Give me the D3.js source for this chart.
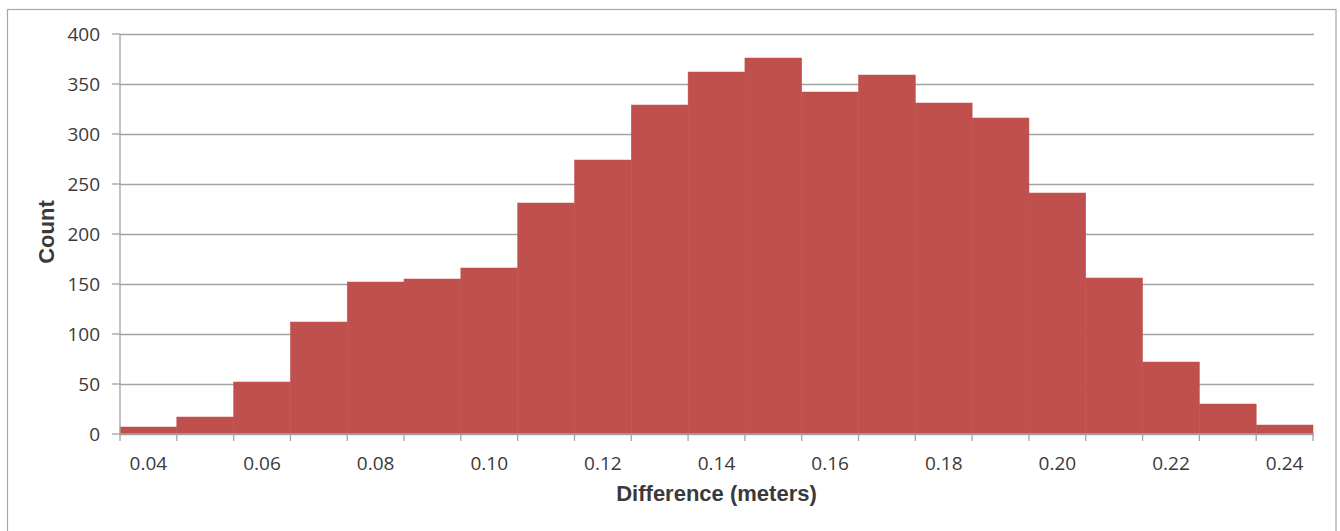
<!DOCTYPE html>
<html>
<head>
<meta charset="utf-8">
<script src="https://cdn.jsdelivr.net/npm/d3@7"></script>
<style>
  html, body { margin: 0; padding: 0; background: #fff; }
  svg { display: block; }
</style>
</head>
<body>
<svg id="chart" width="1340" height="531"></svg>
<script>
// ---- data ----
const categories = ["0.04","0.05","0.06","0.07","0.08","0.09","0.10","0.11","0.12","0.13","0.14",
                    "0.15","0.16","0.17","0.18","0.19","0.20","0.21","0.22","0.23","0.24"];
const counts = [7, 17, 52, 112, 152, 155, 166, 231, 274, 329, 362,
                376, 342, 359, 331, 316, 241, 156, 72, 30, 9];
const xTickLabels = ["0.04","0.06","0.08","0.10","0.12","0.14","0.16","0.18","0.20","0.22","0.24"];
const yTicks = [0, 50, 100, 150, 200, 250, 300, 350, 400];
const xTitle = "Difference (meters)";
const yTitle = "Count";

(function () {
// ---- layout ----
const svg = d3.select("#chart");
const pLeft = 120, pRight = 1313, pTop = 34, pBottom = 434;
const gridColor = "#a3a3a3";
const textColor = "#3a3a3a";
const font = "'Open Sans', 'Liberation Sans', sans-serif";

// outer frame
svg.append("rect")
  .attr("x", 7.5).attr("y", 9.5)
  .attr("width", 1336 - 7.5).attr("height", 600)
  .attr("fill", "#fff").attr("stroke", "#a6a6a6").attr("stroke-width", 1.2);

const x = d3.scaleBand().domain(categories).range([pLeft, pRight]).padding(0);
const y = d3.scaleLinear().domain([0, 400]).range([pBottom, pTop]);

// gridlines via axis
const yAxis = d3.axisLeft(y).tickValues(yTicks).tickSize(-(pRight - pLeft + 1)).tickPadding(0).tickFormat("");
const gy = svg.append("g").attr("transform", `translate(${pLeft},0)`).call(yAxis);
gy.select(".domain").remove();
gy.selectAll(".tick line").attr("stroke", gridColor).attr("stroke-width", 1.3);
// outside tick marks
svg.append("g").selectAll("line").data(yTicks).join("line")
  .attr("x1", pLeft - 8).attr("x2", pLeft)
  .attr("y1", d => y(d)).attr("y2", d => y(d))
  .attr("stroke", gridColor).attr("stroke-width", 1.3);
// y labels
svg.append("g").selectAll("text").data(yTicks).join("text")
  .attr("x", 100).attr("y", d => y(d))
  .attr("dy", "0.36em")
  .attr("text-anchor", "end")
  .attr("font-family", font).attr("font-size", 19)
  .attr("fill", textColor)
  .text(d => d);

// bars
svg.append("g").selectAll("rect").data(counts).join("rect")
  .attr("x", (d, i) => x(categories[i]))
  .attr("width", x.bandwidth())
  .attr("y", d => y(d))
  .attr("height", d => y(0) - y(d))
  .attr("fill", "#C0504D")
  .attr("stroke", "#C0504D").attr("stroke-width", 0.5);

// y axis line
svg.append("line")
  .attr("x1", pLeft).attr("x2", pLeft).attr("y1", pTop).attr("y2", pBottom)
  .attr("stroke", gridColor).attr("stroke-width", 1.3);
// x axis line
svg.append("line")
  .attr("x1", pLeft).attr("x2", pRight).attr("y1", pBottom).attr("y2", pBottom)
  .attr("stroke", gridColor).attr("stroke-width", 1.3);
// x tick marks at category boundaries
const boundaries = categories.map(c => x(c)).concat([x(categories[categories.length - 1]) + x.bandwidth()]);
svg.append("g").selectAll("line").data(boundaries).join("line")
  .attr("x1", d => d).attr("x2", d => d)
  .attr("y1", pBottom).attr("y2", pBottom + 7)
  .attr("stroke", gridColor).attr("stroke-width", 1.3);

// x labels via axis (centered in categories)
const xAxis = d3.axisBottom(x).tickValues(xTickLabels).tickSize(0).tickPadding(0);
const gx = svg.append("g").attr("transform", `translate(0,${pBottom})`).call(xAxis);
gx.select(".domain").remove();
gx.selectAll("text")
  .attr("y", 36).attr("dy", 0)
  .attr("font-family", font).attr("font-size", 19)
  .attr("fill", textColor);

// titles
svg.append("text")
  .attr("x", (pLeft + pRight) / 2).attr("y", 501)
  .attr("text-anchor", "middle")
  .attr("font-family", "'Liberation Sans', Arial, sans-serif").attr("font-weight", "bold")
  .attr("font-size", 22).attr("fill", textColor)
  .text(xTitle);

svg.append("text")
  .attr("transform", `translate(54,${(pTop + pBottom) / 2 - 2}) rotate(-90)`)
  .attr("text-anchor", "middle")
  .attr("font-family", "'Liberation Sans', Arial, sans-serif").attr("font-weight", "bold")
  .attr("font-size", 22).attr("fill", textColor)
  .text(yTitle);
})();
</script>
</body>
</html>
